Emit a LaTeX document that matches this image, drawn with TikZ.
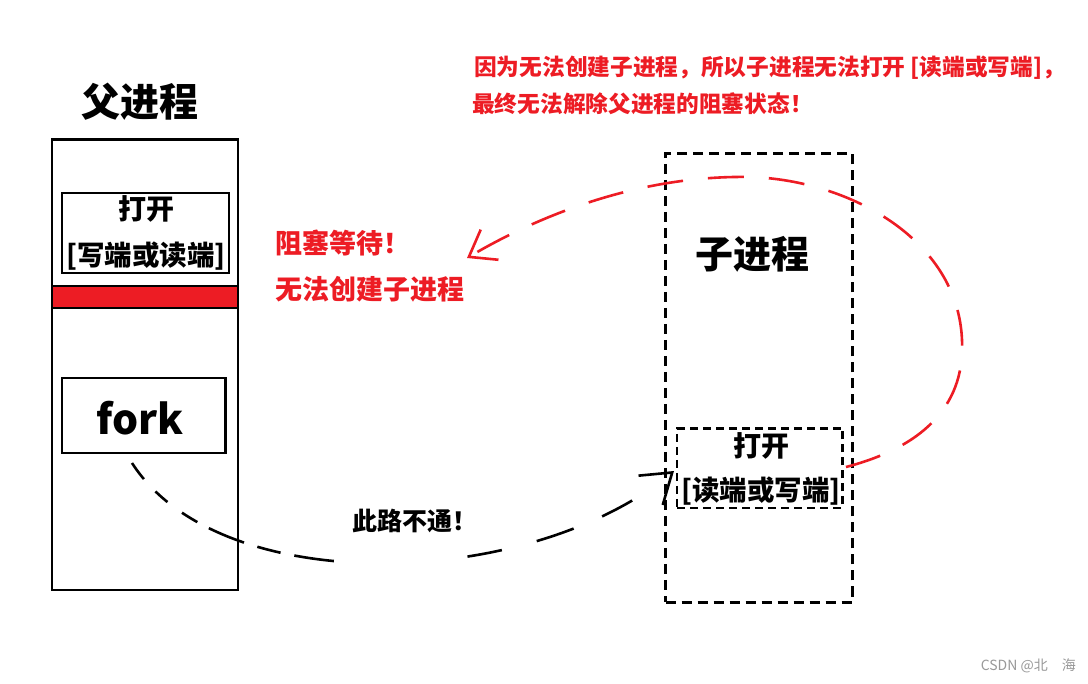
\documentclass[tikz,border=0pt]{standalone}
\usepackage{fontspec}
\setmainfont{Noto Sans CJK SC}
\usetikzlibrary{arrows.meta}
\definecolor{pred}{HTML}{ED1C24}
\newcommand{\myfs}[1]{\fontsize{#1}{#1}\selectfont}
\begin{document}
\begin{tikzpicture}[x=1pt,y=-1pt,
  solidbox/.style={draw=black, line width=2.6pt, inner sep=0pt, outer sep=0pt},
  dashbox/.style={draw=black, line width=3pt, dash pattern=on 10pt off 6pt, inner sep=0pt, outer sep=0pt},
  dashinner/.style={draw=black, line width=2.6pt, dash pattern=on 8pt off 5pt, inner sep=0pt, outer sep=0pt},
  boxtxt/.style={inner sep=0pt, font=\myfs{27.5}\bfseries},
  redtxt/.style={inner sep=0pt, anchor=west, text=pred, font=\myfs{27}\bfseries},
  notetxt/.style={inner sep=0pt, anchor=west, text=pred, font=\myfs{22.7}\bfseries},
  blackcurve/.style={draw=black, line width=2.6pt, dash pattern=on 20pt off 17pt on 16pt off 18pt on 18pt off 13pt on 38pt off 14pt on 24pt off 14pt on 40pt off 134pt on 35pt off 36pt on 39pt off 31pt on 34pt off 120pt, -{Straight Barb[length=28pt,width=38pt,line width=2.6pt]}},
  redcurve/.style={draw=pred, line width=2.6pt, dash pattern=on 36pt off 25pt, -{Straight Barb[length=24pt,width=35pt,line width=2.6pt]}}
]
\fill[white] (0,0) rectangle (1088,684);
\useasboundingbox (0,0) rectangle (1088,684);

% parent process
\node[boxtxt, font=\myfs{39}\bfseries] (ptitle) at (140,102) {父进程};
\node[solidbox, minimum width=186pt, minimum height=450.5pt] (parent) at (145,364.75) {};
\node[solidbox, minimum width=167pt, minimum height=80pt] (pinner) at (145.5,233) {};
\node[boxtxt, font=\myfs{28}\bfseries] (popen1) at (146,209) {打开};
\node[boxtxt] (popen2) at (146,256) {[写端或读端]};
\node[solidbox, fill=pred, minimum width=186pt, minimum height=22pt] (redbar) at (145,297) {};
\node[solidbox, minimum width=163.5pt, minimum height=75pt] (fork) at (143.75,415.5) {};
\node[boxtxt, font=\myfs{41}\bfseries] (forktxt) at (140,418) {fork};

% child process
\node[dashbox, minimum width=186.5pt, minimum height=448.5pt] (child) at (758.75,377.75) {};
\node[boxtxt, font=\myfs{38}\bfseries] (ctitle) at (752,254) {子进程};
\node[dashinner, minimum width=165.5pt, minimum height=79.5pt] (cinner) at (759.75,468.25) {};
\node[boxtxt, font=\myfs{28}\bfseries] (copen1) at (761,446) {打开};
\node[boxtxt] (copen2) at (761,491) {[读端或写端]};

% texts
\node[redtxt] (block1) at (275,243) {阻塞等待！};
\node[redtxt] (block2) at (275,289) {无法创建子进程};
\node[notetxt] (note1) at (474,68) {因为无法创建子进程，所以子进程无法打开 [读端或写端]，};
\node[notetxt] (note2) at (472,104) {最终无法解除父进程的阻塞状态！};
\node[inner sep=0pt, anchor=west, font=\myfs{25}\bfseries] (noway) at (352,521) {此路不通！};
\node[inner sep=0pt, anchor=east, text=black!40, font=\myfs{14}] (mark) at (1076,666) {CSDN @北　海};

% connectors
\coordinate (bs) at (132,463);
\coordinate (be) at (674,471);
\draw[blackcurve] (bs) .. controls (220,600) and (530,590) .. (be);

\coordinate (rs) at (846,467);
\coordinate (rm1) at (962,340);
\coordinate (rm2) at (750,177);
\coordinate (re) at (467,258);
\draw[redcurve] (rs) .. controls (930,445) and (965,400) .. (rm1)
  .. controls (958,240) and (850,180) .. (rm2)
  .. controls (640,175) and (540,215) .. (re);
\end{tikzpicture}
\end{document}
